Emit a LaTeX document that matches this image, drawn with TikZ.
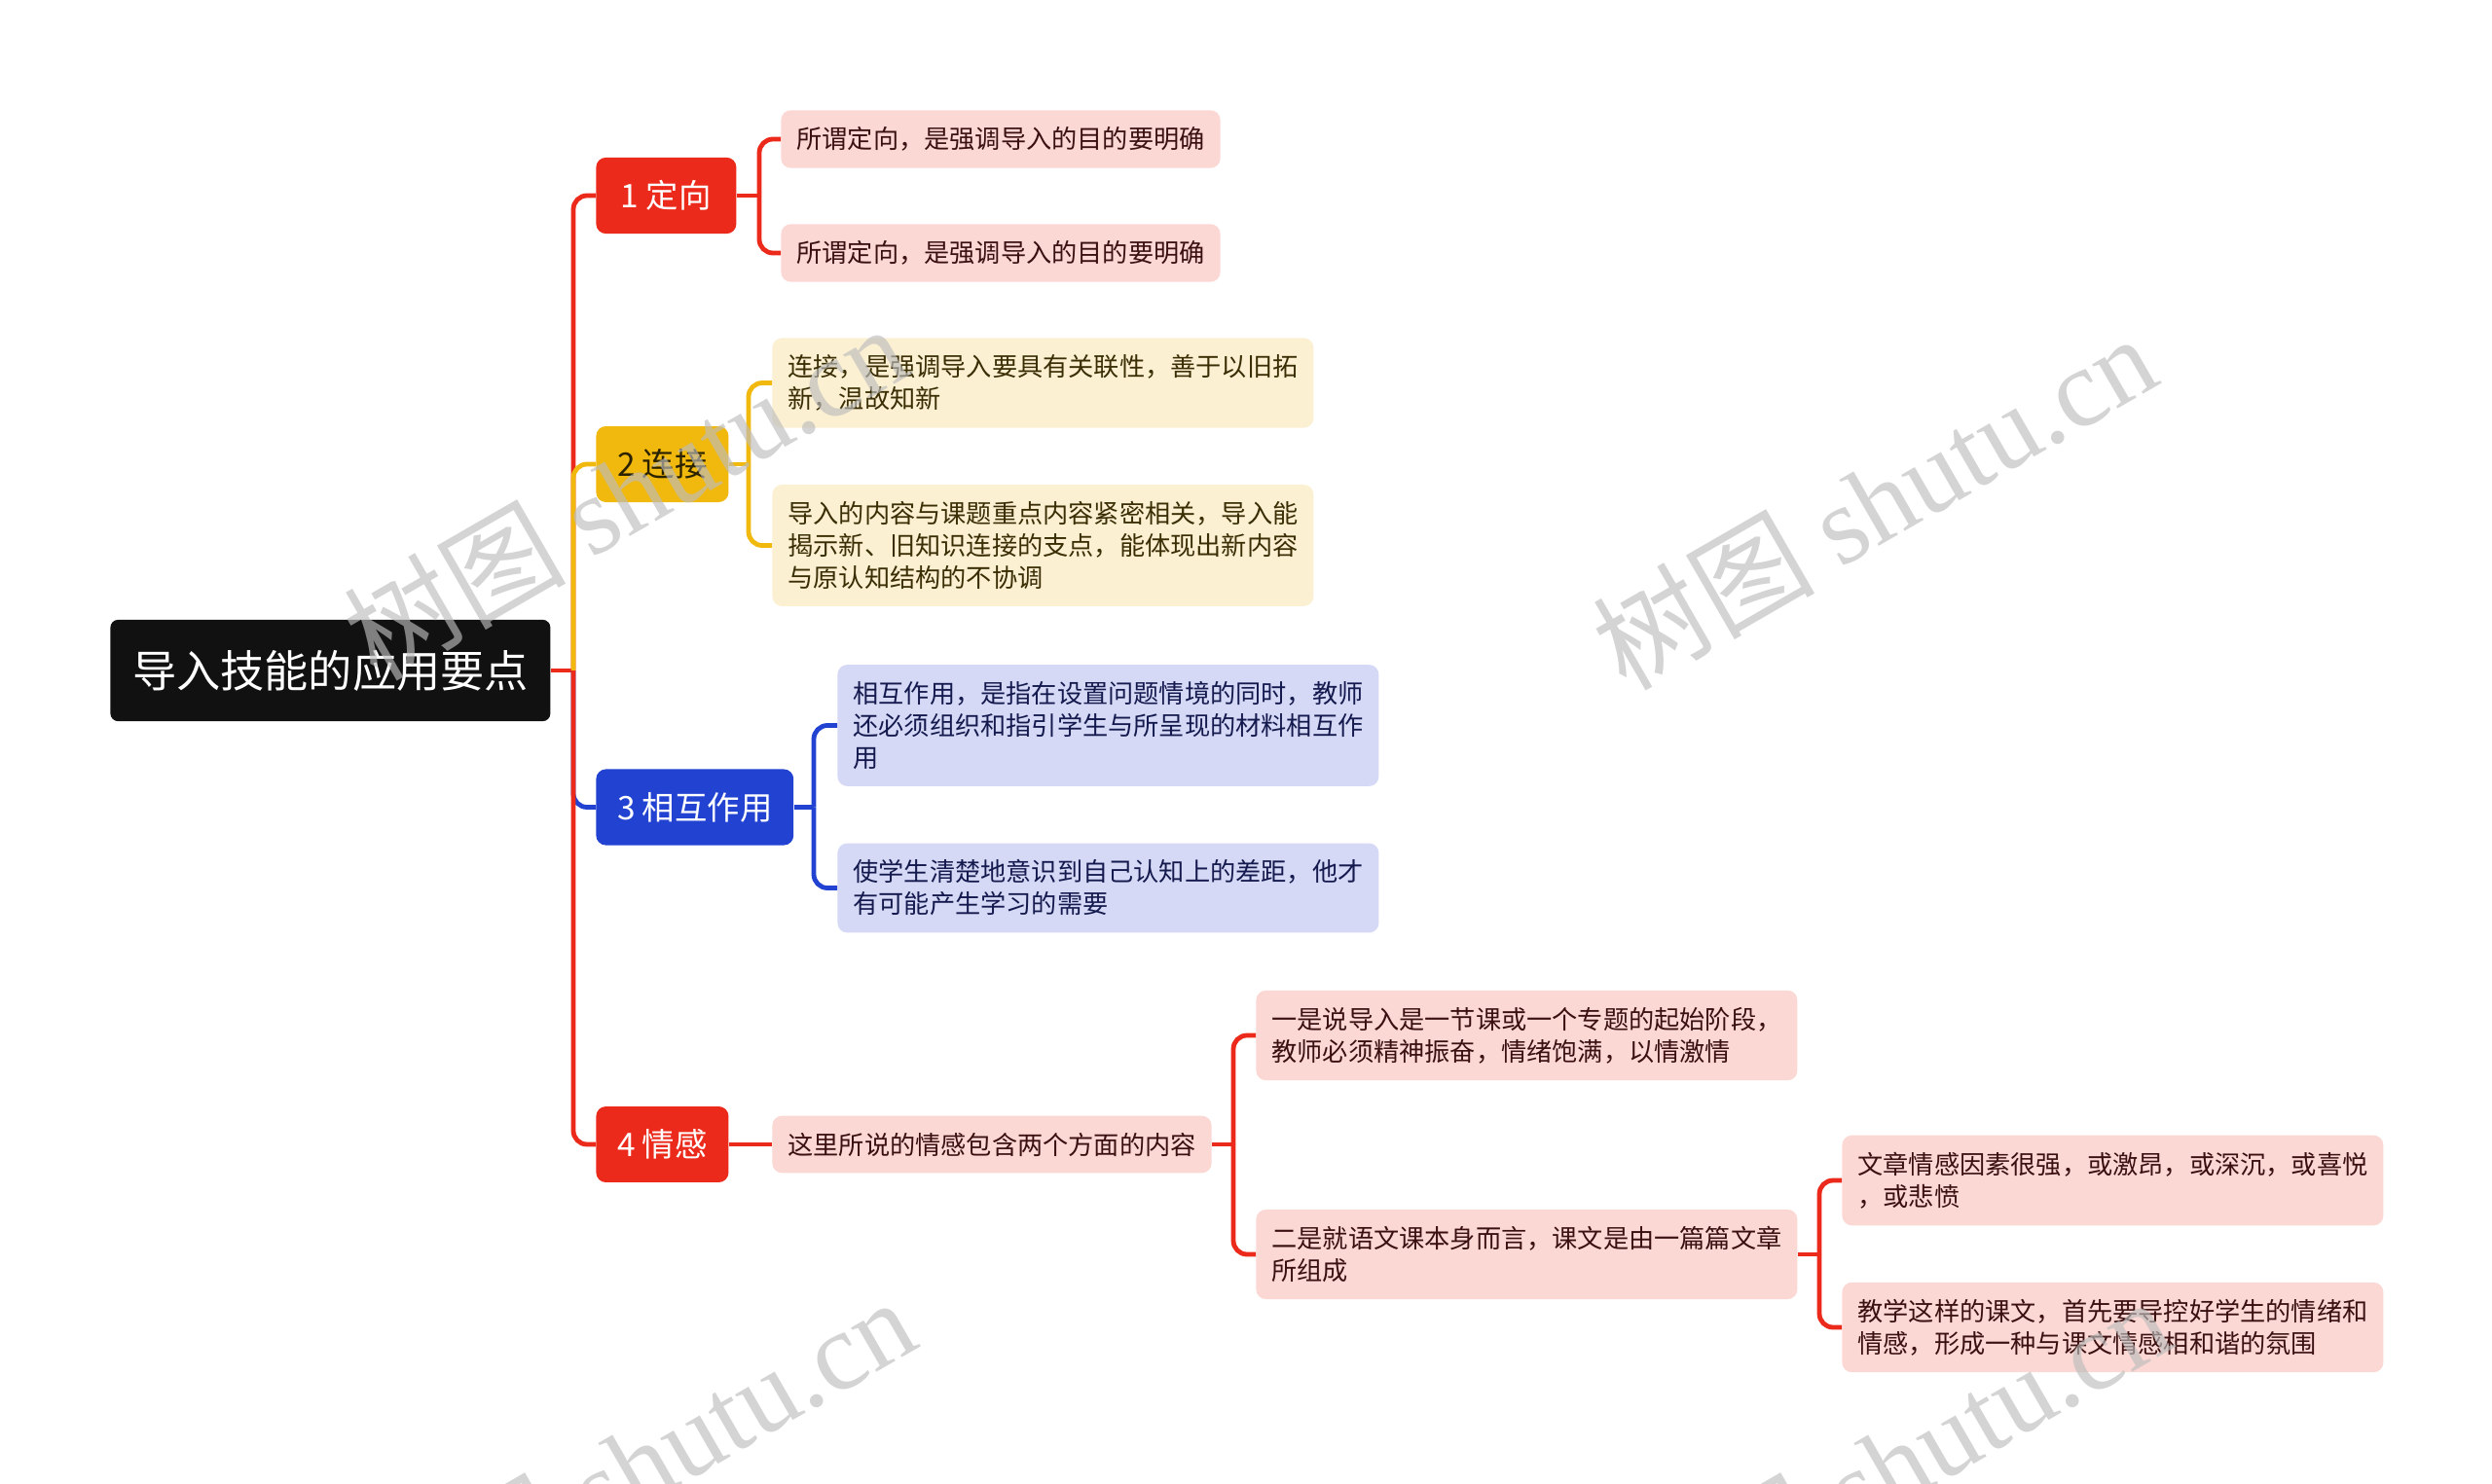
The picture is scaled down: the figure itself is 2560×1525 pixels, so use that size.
\documentclass[tikz,border=0pt]{standalone}
\usepackage{fontspec}
\setmainfont{Noto Sans CJK SC}
\newfontfamily\wmlat{Liberation Serif}
\definecolor{cred}{HTML}{EC2A1B}
\definecolor{cyel}{HTML}{F1B80D}
\definecolor{cblue}{HTML}{2242D2}
\definecolor{rootblack}{HTML}{111111}
\definecolor{tdark}{HTML}{2B2200}
\definecolor{pinkf}{HTML}{FCD8D5}
\definecolor{pinkt}{HTML}{3A1010}
\definecolor{yelf}{HTML}{FCF0D3}
\definecolor{yelt}{HTML}{3A2E05}
\definecolor{bluef}{HTML}{D5D9F6}
\definecolor{bluet}{HTML}{141A4E}
\definecolor{wmgray}{HTML}{BDBDBD}
\newcommand{\mmbranch}[4]{%
  \draw[lnk,#1] (#2.east) -- (#3 |- #2.east);
  \draw[lnk,#1,rounded corners=7pt] (#3 |- #2.east) -- (#3 |- #4.west) -- (#4.west);
}
\tikzset{
  lnk/.style={line width=2.4pt},
  rootbox/.style={fill=rootblack, rounded corners=4pt, text=white,
    font=\fontsize{22.6}{27}\selectfont, inner xsep=11.3pt, inner ysep=15.5pt, anchor=west},
  topic/.style={rounded corners=5pt, font=\fontsize{16.7}{20}\selectfont,
    inner xsep=10.8pt, inner ysep=11.8pt, anchor=west},
  leaf/.style={rounded corners=5pt, font=\fontsize{13.1}{16.5}\selectfont,
    inner xsep=8pt, inner ysep=8.6pt, align=left, anchor=west},
  pinkleaf/.style={leaf, fill=pinkf, text=pinkt},
  yelleaf/.style={leaf, fill=yelf, text=yelt},
  blueleaf/.style={leaf, fill=bluef, text=bluet},
  wm/.style={text=wmgray, text opacity=0.65, rotate=30, font=\fontsize{57}{57}\selectfont}
}
\begin{document}
\begin{tikzpicture}[x=0.5pt,y=-0.5pt]
\useasboundingbox (0,0) rectangle (2560,1525);
\fill[white] (0,0) rectangle (2560,1525);

% nodes
\node[rootbox] (r) at (113,689) {导入技能的应用要点};
\node[topic, fill=cred, text=white, minimum width=72pt] (t1) at (612,201) {1 定向};
\node[topic, fill=cyel, text=tdark] (t2) at (612,477) {2 连接};
\node[topic, fill=cblue, text=white] (t3) at (612,829.5) {3 相互作用};
\node[topic, fill=cred, text=white] (t4) at (612,1176) {4 情感};

\node[pinkleaf] (a1) at (802,143) {所谓定向，是强调导入的目的要明确};
\node[pinkleaf] (a2) at (802,260) {所谓定向，是强调导入的目的要明确};
\node[yelleaf] (b1) at (793,393.5) {连接，是强调导入要具有关联性，善于以旧拓\\新，温故知新};
\node[yelleaf] (b2) at (793,560.5) {导入的内容与课题重点内容紧密相关，导入能\\揭示新、旧知识连接的支点，能体现出新内容\\与原认知结构的不协调};
\node[blueleaf] (c1) at (860,745.5) {相互作用，是指在设置问题情境的同时，教师\\还必须组织和指引学生与所呈现的材料相互作\\用};
\node[blueleaf] (c2) at (860,912.5) {使学生清楚地意识到自己认知上的差距，他才\\有可能产生学习的需要};
\node[pinkleaf] (d1) at (793,1176) {这里所说的情感包含两个方面的内容};
\node[pinkleaf] (d2) at (1290,1064) {一是说导入是一节课或一个专题的起始阶段，\\教师必须精神振奋，情绪饱满，以情激情};
\node[pinkleaf] (d3) at (1290,1289) {二是就语文课本身而言，课文是由一篇篇文章\\所组成};
\node[pinkleaf] (d4) at (1892,1213) {文章情感因素很强，或激昂，或深沉，或喜悦\\，或悲愤};
\node[pinkleaf] (d5) at (1892,1364) {教学这样的课文，首先要导控好学生的情绪和\\情感，形成一种与课文情感相和谐的氛围};

% junctions
\coordinate (j0) at (589,0);
\coordinate (j1) at (780,0);
\coordinate (j2) at (769,0);
\coordinate (j3) at (836,0);
\coordinate (j5) at (1267,0);
\coordinate (j6) at (1869,0);

% connectors
\draw[lnk,cred] (r.east) -- (j0 |- r.east);
\draw[lnk,cred,rounded corners=7pt] (j0 |- r.east) -- (j0 |- t1.west) -- (t1.west);
\draw[lnk,cyel,rounded corners=7pt] (j0 |- r.east) -- (j0 |- t2.west) -- (t2.west);
\draw[lnk,cblue,rounded corners=7pt] (j0 |- r.east) -- (j0 |- t3.west) -- (t3.west);
\draw[lnk,cred,rounded corners=7pt] (j0 |- r.east) -- (j0 |- t4.west) -- (t4.west);

\mmbranch{cred}{t1}{j1}{a1}
\mmbranch{cred}{t1}{j1}{a2}
\mmbranch{cyel}{t2}{j2}{b1}
\mmbranch{cyel}{t2}{j2}{b2}
\mmbranch{cblue}{t3}{j3}{c1}
\mmbranch{cblue}{t3}{j3}{c2}
\draw[lnk,cred] (t4.east) -- (d1.west);
\mmbranch{cred}{d1}{j5}{d2}
\mmbranch{cred}{d1}{j5}{d3}
\mmbranch{cred}{d3}{j6}{d4}
\mmbranch{cred}{d3}{j6}{d5}

% watermarks
\begin{scope}
\clip (0,0) rectangle (2560,1525);
\node[wm] (w1) at (642,505) {树图 {\wmlat shutu.cn}};
\node[wm] (w2) at (1925,515) {树图 {\wmlat shutu.cn}};
\node[wm] (w3) at (650,1505) {树图 {\wmlat shutu.cn}};
\node[wm] (w4) at (1940,1505) {树图 {\wmlat shutu.cn}};
\end{scope}
\end{tikzpicture}
\end{document}
